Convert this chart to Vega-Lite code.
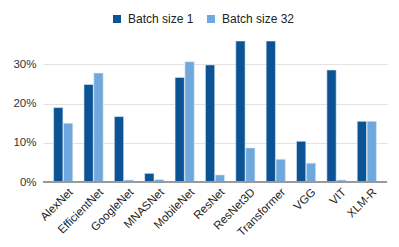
{
  "$schema": "https://vega.github.io/schema/vega-lite/v6.json",
  "width": 344,
  "height": 141,
  "autosize": {"type": "none"},
  "padding": {"left": 43, "top": 41, "right": 12, "bottom": 65},
  "background": "white",
  "data": {
    "values": [
      {"model": "AlexNet", "series": "Batch size 1", "v": 0.190},
      {"model": "AlexNet", "series": "Batch size 32", "v": 0.150},
      {"model": "EfficientNet", "series": "Batch size 1", "v": 0.249},
      {"model": "EfficientNet", "series": "Batch size 32", "v": 0.278},
      {"model": "GoogleNet", "series": "Batch size 1", "v": 0.167},
      {"model": "GoogleNet", "series": "Batch size 32", "v": 0.005},
      {"model": "MNASNet", "series": "Batch size 1", "v": 0.022},
      {"model": "MNASNet", "series": "Batch size 32", "v": 0.006},
      {"model": "MobileNet", "series": "Batch size 1", "v": 0.267},
      {"model": "MobileNet", "series": "Batch size 32", "v": 0.307},
      {"model": "ResNet", "series": "Batch size 1", "v": 0.299},
      {"model": "ResNet", "series": "Batch size 32", "v": 0.018},
      {"model": "ResNet3D", "series": "Batch size 1", "v": 0.36},
      {"model": "ResNet3D", "series": "Batch size 32", "v": 0.087},
      {"model": "Transformer", "series": "Batch size 1", "v": 0.36},
      {"model": "Transformer", "series": "Batch size 32", "v": 0.058},
      {"model": "VGG", "series": "Batch size 1", "v": 0.104},
      {"model": "VGG", "series": "Batch size 32", "v": 0.048},
      {"model": "VIT", "series": "Batch size 1", "v": 0.286},
      {"model": "VIT", "series": "Batch size 32", "v": 0.005},
      {"model": "XLM-R", "series": "Batch size 1", "v": 0.155},
      {"model": "XLM-R", "series": "Batch size 32", "v": 0.155}
    ]
  },
  "config": {
    "view": {"stroke": null},
    "font": "Liberation Sans"
  },
  "layer": [
    {
      "mark": {"type": "bar", "stroke": "#d8e6f3", "strokeWidth": 0.6, "clip": true},
      "encoding": {
        "x": {
          "field": "model", "type": "nominal", "sort": null,
          "scale": {"paddingInner": 0.37, "paddingOuter": 0.35},
          "axis": {
            "title": null, "labelAngle": -45, "labelAlign": "right", "labelBaseline": "top",
            "labelFontSize": 11.5, "labelColor": "#222", "ticks": false, "domain": false,
            "labelPadding": 4, "labelOffset": 4
          }
        },
        "xOffset": {"field": "series", "type": "nominal", "scale": {"paddingInner": 0.06}},
        "y": {
          "field": "v", "type": "quantitative",
          "scale": {"domain": [0, 0.36], "nice": false},
          "axis": {
            "title": null, "format": ".0%", "values": [0, 0.1, 0.2, 0.3],
            "labelFontSize": 11.5, "labelColor": "#333", "ticks": false, "domain": false,
            "gridColor": "#e2e2e2", "gridWidth": 1, "labelPadding": 7
          }
        },
        "color": {
          "field": "series", "type": "nominal",
          "scale": {"domain": ["Batch size 1", "Batch size 32"], "range": ["#0b5394", "#6fa8dc"]},
          "legend": {
            "title": null, "orient": "none", "direction": "horizontal",
            "legendX": 68, "legendY": -28, "symbolType": "square", "symbolSize": 64,
            "symbolStrokeWidth": 0, "labelFontSize": 12, "labelColor": "#222",
            "columnPadding": 11, "labelOffset": 5
          }
        }
      }
    },
    {
      "mark": {"type": "rule", "color": "#999999", "strokeWidth": 1},
      "encoding": {"y": {"datum": 0}}
    }
  ]
}
